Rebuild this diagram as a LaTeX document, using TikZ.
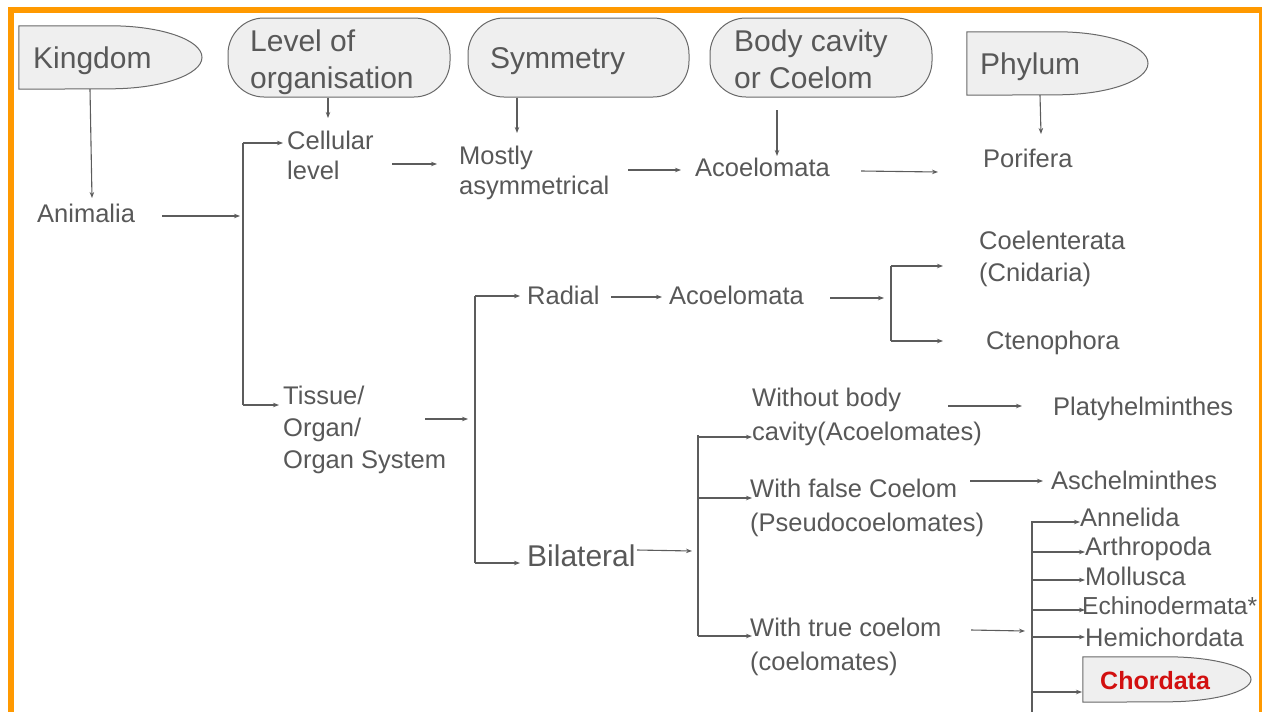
\documentclass[tikz,border=0pt]{standalone}
\usepackage{fontspec}
\setmainfont{Liberation Sans}
\usetikzlibrary{arrows.meta}
\definecolor{orng}{RGB}{255,153,0}
\definecolor{txt}{RGB}{88,88,88}
\definecolor{lnc}{RGB}{92,92,92}
\definecolor{hfill}{RGB}{239,239,239}
\definecolor{hline}{RGB}{105,105,105}
\definecolor{chred}{RGB}{210,16,16}
\begin{document}
\begin{tikzpicture}[x=1pt,y=-1pt,
  lbl/.style={anchor=west, inner sep=0pt, text=txt, font=\fontsize{25.5}{31}\selectfont, align=left},
  lblb/.style={lbl, font=\fontsize{25.5}{34.5}\selectfont},
  hlbl/.style={anchor=west, inner sep=0pt, text=txt, font=\fontsize{30}{37}\selectfont, align=left},
  arr/.style={draw=lnc, line width=1.1pt, -{Stealth[length=6pt,width=4.5pt]}},
  conn/.style={draw=lnc, line width=1.1pt},
  hdr/.style={draw=hline, fill=hfill, line width=1pt},
  stadium/.style={hdr, rounded corners=36pt, minimum height=79pt, inner sep=0pt},
  delaybox/.style={inner sep=0pt}
]
\useasboundingbox (0,0) rectangle (1263,712);
% frame
\fill[orng] (8,7) rectangle (14,712);
\fill[orng] (8,7) rectangle (1261.5,13);
\fill[orng] (1258.5,7) rectangle (1261.5,712);

% header shapes
\node[delaybox, minimum width=183pt, minimum height=63pt] (kingdom) at (110.5,57.5) {};
\draw[hdr] (kingdom.north west) -- (kingdom.north) arc[start angle=90,end angle=-90,x radius=91.5pt,y radius=31.5pt] -- (kingdom.south west) -- cycle;
\node[delaybox, minimum width=181pt, minimum height=63pt] (phylum) at (1057.5,63.5) {};
\draw[hdr] (phylum.north west) -- (phylum.north) arc[start angle=90,end angle=-90,x radius=90.5pt,y radius=31.5pt] -- (phylum.south west) -- cycle;
\node[stadium, minimum width=222pt] (levelorg) at (339,57.5) {};
\node[stadium, minimum width=221pt] (symmetry) at (578.5,57.5) {};
\node[stadium, minimum width=222pt] (bodycav) at (821,57.5) {};

\node[hlbl] (kingdomtxt) at (33,60.5) {Kingdom};
\node[hlbl] (levelorgtxt) at (250,62) {Level of\\organisation};
\node[hlbl] (symmetrytxt) at (490,61) {Symmetry};
\node[hlbl] (bodycavtxt) at (734,59) {Body cavity\\or Coelom};
\node[hlbl] (phylumtxt) at (980,67) {Phylum};

% text nodes
\node[lbl] (animalia) at (37,213) {Animalia};
\node[lbl, font=\fontsize{25.5}{30}\selectfont] (cellular) at (287,155.5) {Cellular\\level};
\node[lbl, font=\fontsize{25.5}{30}\selectfont] (mostly) at (459,172.5) {Mostly\\asymmetrical};
\node[lbl] (acoelA) at (695,167) {Acoelomata};
\node[lbl] (porifera) at (983,158) {Porifera};
\node[lbl, font=\fontsize{25.5}{32}\selectfont] (tissue) at (283,430) {Tissue/\\Organ/\\Organ System};
\node[lbl] (radial) at (527,295) {Radial};
\node[lbl] (acoelB) at (669,295) {Acoelomata};
\node[lbl, font=\fontsize{25.5}{32}\selectfont] (coelent) at (979,258.7) {Coelenterata\\(Cnidaria)};
\node[lbl] (cteno) at (986,342.7) {Ctenophora};
\node[hlbl] (bilateral) at (527,555.5) {Bilateral};
\node[lblb] (without) at (752,417) {Without body\\cavity(Acoelomates)};
\node[lblb] (wfalse) at (750,507.7) {With false Coelom\\(Pseudocoelomates)};
\node[lblb] (wtrue) at (750,647) {With true coelom\\(coelomates)};
\node[lbl] (platy) at (1053,408.5) {Platyhelminthes};
\node[lbl] (aschel) at (1051,480) {Aschelminthes};
\node[lbl] (annelida) at (1080,517.5) {Annelida};
\node[lbl] (arthro) at (1085,549) {Arthropoda};
\node[lbl] (mollusca) at (1085,576) {Mollusca};
\node[lbl, font=\fontsize{24.6}{31}\selectfont] (echino) at (1082,606) {Echinodermata*};
\node[lbl] (hemi) at (1085,637) {Hemichordata};
\node[delaybox, minimum width=168pt, minimum height=45pt] (chordata) at (1167,679.5) {};
\draw[hdr] (chordata.north west) -- (chordata.north) arc[start angle=90,end angle=-90,x radius=84pt,y radius=22.5pt] -- (chordata.south west) -- cycle;
\node[anchor=west, inner sep=0pt, text=chred, font=\fontsize{25}{30}\selectfont\bfseries] (chordatatxt) at (1100,681) {Chordata};

% header arrows
\coordinate (kIn) at (92,198);
\draw[arr] ([xshift=-20.5pt]kingdom.south) -- (kIn);
\coordinate (loIn) at (328,118);
\draw[arr] ([xshift=-11pt]levelorg.south) -- (loIn);
\coordinate (syIn) at (517,133);
\draw[arr] ([xshift=-61.5pt]symmetry.south) -- (syIn);
\coordinate (bcOut) at (777,110);
\coordinate (bcIn) at (777,156);
\draw[arr] (bcOut) -- (bcIn);
\coordinate (phIn) at (1041,134);
\draw[arr] ([xshift=-17.5pt]phylum.south) -- (phIn);

% bracket 1
\coordinate (anOut) at (162,216);
\coordinate (anIn) at (240,216);
\draw[arr] (anOut) -- (anIn);
\coordinate (b1t) at (243,143);
\coordinate (b1b) at (243,405);
\coordinate (b1tIn) at (283,143);
\coordinate (b1bIn) at (279,405);
\draw[conn] (b1t) -- (b1b);
\draw[arr] (b1t) -- (b1tIn);
\draw[arr] (b1b) -- (b1bIn);

% top row
\coordinate (ce1) at (392,164); \coordinate (ce2) at (437,164);
\draw[arr] (ce1) -- (ce2);
\coordinate (mo1) at (628,170); \coordinate (mo2) at (681,170);
\draw[arr] (mo1) -- (mo2);
\coordinate (ac1) at (861,171); \coordinate (ac2) at (938,172);
\draw[arr] (ac1) -- (ac2);

% bracket 2
\coordinate (ti1) at (425,419); \coordinate (ti2) at (468,419);
\draw[arr] (ti1) -- (ti2);
\coordinate (b2t) at (475,296);
\coordinate (b2b) at (475,563);
\coordinate (b2tIn) at (520,296);
\coordinate (b2bIn) at (520,563);
\draw[conn] (b2t) -- (b2b);
\draw[arr] (b2t) -- (b2tIn);
\draw[arr] (b2b) -- (b2bIn);

% radial row
\coordinate (ra1) at (611,297); \coordinate (ra2) at (662,297);
\draw[arr] (ra1) -- (ra2);
\coordinate (ab1) at (830,298); \coordinate (ab2) at (884,298);
\draw[arr] (ab1) -- (ab2);
\coordinate (b3t) at (891,266);
\coordinate (b3b) at (891,341);
\coordinate (b3tIn) at (943,266);
\coordinate (b3bIn) at (943,341);
\draw[conn] (b3t) -- (b3b);
\draw[arr] (b3t) -- (b3tIn);
\draw[arr] (b3b) -- (b3bIn);

% bilateral
\coordinate (bi1) at (637,550); \coordinate (bi2) at (692,551);
\draw[arr] (bi1) -- (bi2);
\coordinate (b4t) at (698,435);
\coordinate (b4b) at (698,636);
\draw[conn] (b4t) -- (b4b);
\coordinate (b4a) at (698,437); \coordinate (b4aIn) at (752,437);
\coordinate (b4m) at (698,498); \coordinate (b4mIn) at (752,498);
\coordinate (b4c) at (698,636); \coordinate (b4cIn) at (752,636);
\draw[arr] (b4a) -- (b4aIn);
\draw[arr] (b4m) -- (b4mIn);
\draw[arr] (b4c) -- (b4cIn);

\coordinate (wo1) at (948,406); \coordinate (wo2) at (1022,406);
\draw[arr] (wo1) -- (wo2);
\coordinate (wf1) at (970,481); \coordinate (wf2) at (1043,481);
\draw[arr] (wf1) -- (wf2);
\coordinate (wt1) at (971,630); \coordinate (wt2) at (1025,631);
\draw[arr] (wt1) -- (wt2);

% bracket 5
\coordinate (b5t) at (1032,521);
\coordinate (b5b) at (1032,712);
\draw[conn] (b5t) -- (b5b);
\coordinate (b5a) at (1032,522); \coordinate (b5aIn) at (1080,522);
\coordinate (b5r) at (1032,552); \coordinate (b5rIn) at (1085,552);
\coordinate (b5m) at (1032,580); \coordinate (b5mIn) at (1085,580);
\coordinate (b5e) at (1032,610); \coordinate (b5eIn) at (1085,610);
\coordinate (b5h) at (1032,637); \coordinate (b5hIn) at (1085,637);
\coordinate (b5c) at (1032,692); \coordinate (b5cIn) at (1082,692);
\draw[arr] (b5a) -- (b5aIn);
\draw[arr] (b5r) -- (b5rIn);
\draw[arr] (b5m) -- (b5mIn);
\draw[arr] (b5e) -- (b5eIn);
\draw[arr] (b5h) -- (b5hIn);
\draw[arr] (b5c) -- (b5cIn);
\end{tikzpicture}
\end{document}
